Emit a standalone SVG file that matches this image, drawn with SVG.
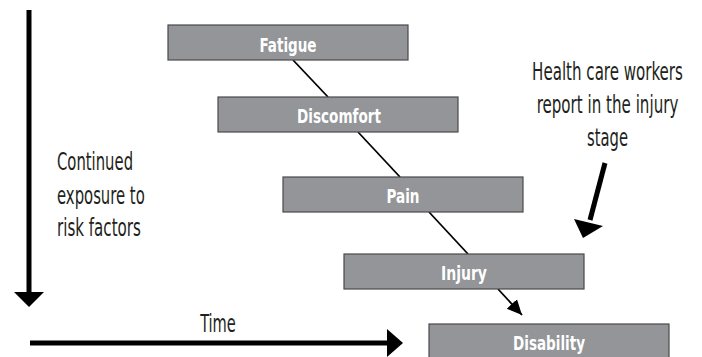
<svg xmlns="http://www.w3.org/2000/svg" width="702" height="357" viewBox="0 0 702 357">
<style>
.box{fill:#939598;stroke:#4a4a4c;stroke-width:1.2}
.bl{font-family:"DejaVu Sans Condensed","DejaVu Sans",sans-serif;font-stretch:condensed;font-weight:bold;font-size:20px;fill:#ffffff;text-anchor:middle}
.lab{font-family:"DejaVu Sans Condensed","DejaVu Sans",sans-serif;font-stretch:condensed;font-size:24px;fill:#231f20}
.mid{text-anchor:middle}
.thin{stroke:#000;stroke-width:1.8;fill:none}
.thick{stroke:#000;stroke-width:5;fill:none}
</style>
<defs>
<marker id="sm" markerUnits="userSpaceOnUse" markerWidth="16" markerHeight="16" viewBox="0 0 16 16" refX="15" refY="8" orient="auto">
<path d="M0,1 L15,8 L0,15 Z" fill="#000"/>
</marker>
</defs>
<g id="connectors">
<line class="thin" x1="293" y1="60" x2="328" y2="97"/>
<line class="thin" x1="358" y1="132" x2="400" y2="177"/>
<line class="thin" x1="429" y1="212" x2="468" y2="254"/>
<line class="thin" x1="498" y1="289" x2="522" y2="315" marker-end="url(#sm)"/>
<line class="thick" x1="29" y1="10" x2="29" y2="293"/>
<path d="M14,292 L44,292 L29,307 Z" fill="#000"/>
<line class="thick" x1="30" y1="343" x2="388" y2="343"/>
<path d="M387,329 L387,357 L403,343 Z" fill="#000"/>
<line class="thick" x1="605" y1="163" x2="590" y2="220"/>
<path d="M574,219 L603,226 L583,238 Z" fill="#000"/>
</g>
<g id="fatigue"><rect class="box" x="168" y="25" width="240" height="35"/><text class="bl" x="288" y="52" textLength="57" lengthAdjust="spacingAndGlyphs">Fatigue</text></g>
<g id="discomfort"><rect class="box" x="218" y="97" width="240" height="35"/><text class="bl" x="339" y="123" textLength="84" lengthAdjust="spacingAndGlyphs">Discomfort</text></g>
<g id="pain"><rect class="box" x="283" y="177" width="240" height="35"/><text class="bl" x="403" y="203" textLength="33" lengthAdjust="spacingAndGlyphs">Pain</text></g>
<g id="injury"><rect class="box" x="344" y="254" width="240" height="35"/><text class="bl" x="464" y="280" textLength="46" lengthAdjust="spacingAndGlyphs">Injury</text></g>
<g id="disability"><rect class="box" x="429" y="324" width="240" height="36"/><text class="bl" x="549" y="350" textLength="72" lengthAdjust="spacingAndGlyphs">Disability</text></g>
<g id="exposure-label" transform="translate(57,0) scale(0.65,1)">
<text class="lab" x="0" y="170" textLength="117" lengthAdjust="spacingAndGlyphs">Continued</text>
<text class="lab" x="0" y="204" textLength="135" lengthAdjust="spacingAndGlyphs">exposure to</text>
<text class="lab" x="0" y="236" textLength="129" lengthAdjust="spacingAndGlyphs">risk factors</text>
</g>
<g id="time-label" transform="translate(218,0) scale(0.65,1)"><text class="lab mid" x="0" y="332" textLength="55" lengthAdjust="spacingAndGlyphs">Time</text></g>
<g id="report-label" transform="translate(607.5,0) scale(0.65,1)">
<text class="lab mid" x="0" y="80" textLength="232" lengthAdjust="spacingAndGlyphs">Health care workers</text>
<text class="lab mid" x="0" y="113" textLength="218" lengthAdjust="spacingAndGlyphs">report in the injury</text>
<text class="lab mid" x="0" y="146" textLength="63" lengthAdjust="spacingAndGlyphs">stage</text>
</g>
</svg>
